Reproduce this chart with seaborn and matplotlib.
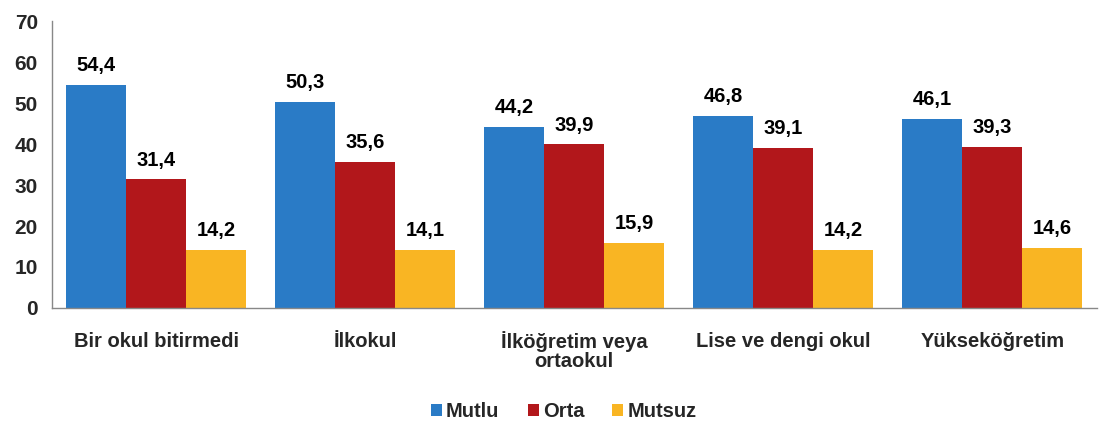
import pandas as pd
import numpy as np
import matplotlib
matplotlib.use("Agg")
import matplotlib.pyplot as plt
import seaborn as sns

# veriler
kategoriler = ["Bir okul bitirmedi", "İlkokul", "İlköğretim veya\nortaokul",
               "Lise ve dengi okul", "Yükseköğretim"]
mutlu = [54.4, 50.3, 44.2, 46.8, 46.1]
orta = [31.4, 35.6, 39.9, 39.1, 39.3]
mutsuz = [14.2, 14.1, 15.9, 14.2, 14.6]
seriler = ["Mutlu", "Orta", "Mutsuz"]
renkler = ["#2A7BC6", "#B2171B", "#F9B523"]

df = pd.DataFrame({"kategori": kategoriler * 3,
                   "seri": np.repeat(seriler, len(kategoriler)),
                   "deger": mutlu + orta + mutsuz})

sns.set_style("white")
plt.rcParams['font.family'] = ['Liberation Sans', 'DejaVu Sans']
plt.rcParams['font.weight'] = 'bold'

fig = plt.figure(figsize=(10.99, 4.23), dpi=100)
ax = fig.add_axes([0.047, 0.272, 0.951, 0.678])

sns.barplot(data=df, x="kategori", y="deger", hue="seri", palette=renkler,
            order=kategoriler, hue_order=seriler, width=0.86, gap=0,
            saturation=1, linewidth=0, edgecolor="none", ax=ax, legend=True)

# bar değer etiketleri
for cont in ax.containers:
    ax.bar_label(cont, labels=[f"{v:.1f}".replace(".", ",") for v in cont.datavalues],
                 padding=7, fontsize=14.5, fontweight='bold', color='black')

ax.set_ylim(0, 70)
ax.set_yticks(range(0, 71, 10))
ax.set_xlim(-0.5, 4.5)
ax.set_xlabel("")
ax.set_ylabel("")

for s in ["top", "right"]:
    ax.spines[s].set_visible(False)
for s in ["left", "bottom"]:
    ax.spines[s].set_color("#888888")
    ax.spines[s].set_linewidth(1)

ax.tick_params(axis='y', length=5, color="#888888", labelsize=15, pad=5)
ax.tick_params(axis='x', which='major', length=0, labelsize=14.5, pad=17)
ax.set_xticks(np.arange(-0.5, 5.0, 1), minor=True)
ax.tick_params(axis='x', which='minor', length=5, color="#888888")
for t in ax.get_xticklabels() + ax.get_yticklabels():
    t.set_fontweight('bold')
    t.set_linespacing(0.95)

leg = ax.legend(loc='upper center', bbox_to_anchor=(0.49, -0.265), ncol=3,
                frameon=False, handlelength=0.55, handleheight=0.55,
                handletextpad=0.2, columnspacing=1.4,
                prop={'size': 14.5, 'weight': 'bold'})

fig.savefig("out.png", dpi=100)
